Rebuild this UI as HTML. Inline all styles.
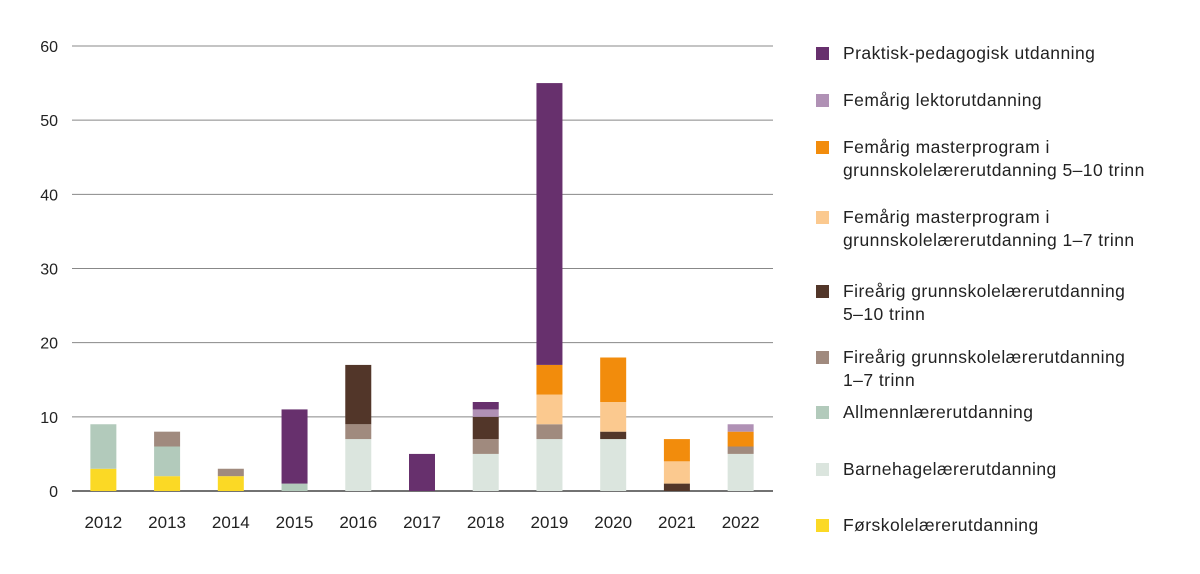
<!DOCTYPE html>
<html><head><meta charset="utf-8"><style>
body{margin:0;background:#fff;font-family:"Liberation Sans",sans-serif;}
svg text{font-family:"Liberation Sans",sans-serif;fill:#222;}
</style></head><body>
<svg id="c" width="1200" height="569"></svg>
<script>
const years=["2012","2013","2014","2015","2016","2017","2018","2019","2020","2021","2022"];
const forskole=[3,2,2,0,0,0,0,0,0,0,0];
const barnehage=[0,0,0,0,7,0,5,7,7,0,5];
const allmenn=[6,4,0,1,0,0,0,0,0,0,0];
const fire17=[0,2,1,0,2,0,2,2,0,0,1];
const fire510=[0,0,0,0,8,0,3,0,1,1,0];
const master17=[0,0,0,0,0,0,0,4,4,3,0];
const master510=[0,0,0,0,0,0,0,4,6,3,2];
const lektor=[0,0,0,0,0,0,1,0,0,0,1];
const ppu=[0,0,0,10,0,5,1,38,0,0,0];
const yTicks=[0,10,20,30,40,50,60];
const series=[
 {n:"Førskolelærerutdanning",v:forskole,c:"#fbd925",k:"forskole"},
 {n:"Barnehagelærerutdanning",v:barnehage,c:"#dbe5de",k:"barnehage"},
 {n:"Allmennlærerutdanning",v:allmenn,c:"#b2cabb",k:"allmenn"},
 {n:"Fireårig grunnskolelærerutdanning|1–7 trinn",v:fire17,c:"#a08a7e",k:"fire-1-7"},
 {n:"Fireårig grunnskolelærerutdanning|5–10 trinn",v:fire510,c:"#523629",k:"fire-5-10"},
 {n:"Femårig masterprogram i|grunnskolelærerutdanning 1–7 trinn",v:master17,c:"#fbc98f",k:"master-1-7"},
 {n:"Femårig masterprogram i|grunnskolelærerutdanning 5–10 trinn",v:master510,c:"#f28c0c",k:"master-5-10"},
 {n:"Femårig lektorutdanning",v:lektor,c:"#b091b5",k:"lektor"},
 {n:"Praktisk-pedagogisk utdanning",v:ppu,c:"#67306d",k:"ppu"}];
const NS="http://www.w3.org/2000/svg",svg=document.getElementById('c');
function mk(t,a){const e=document.createElementNS(NS,t);for(const k in a)e.setAttribute(k,a[k]);svg.appendChild(e);return e;}
const x0=72,x1=773,yb=491,yt=46,ymax=60;
const y=v=>yb-(v/ymax)*(yb-yt);
const step=(x1-x0)/years.length;
const xc=i=>x0+step*(i+0.5)-0.5;
yTicks.forEach(t=>{
 const l=mk('line',{x1:x0,x2:x1,y1:y(t),y2:y(t),stroke:t==0?'#444':'#888','stroke-width':t==0?1.5:1});
 
 
 const tx=mk('text',{x:58,y:y(t)+6,'text-anchor':'end','font-size':16});tx.textContent=t;
 
 
});
years.forEach((yr,i)=>{
 let acc=0;
 series.forEach(s=>{const v=s.v[i];if(!v)return;
  const r=mk('rect',{x:xc(i)-13,width:26,y:y(acc+v),height:y(acc)-y(acc+v),fill:s.c});
  
  
  acc+=v;});
 const t=mk('text',{x:xc(i),y:528,'text-anchor':'middle','font-size':17});t.textContent=yr;
 
 
});
const ly=[525,469,412,357,291,217,147,100,53];
series.forEach((s,i)=>{
 const lines=s.n.split('|');const cy=ly[i];
 const r=mk('rect',{x:816,y:cy-6,width:13,height:13,fill:s.c});
 
 
 lines.forEach((ln,j)=>{const t=mk('text',{x:843,y:cy+6+j*23,'font-size':17.5,'letter-spacing':0.45});t.textContent=ln;
  
  });
});
</script></body></html>
